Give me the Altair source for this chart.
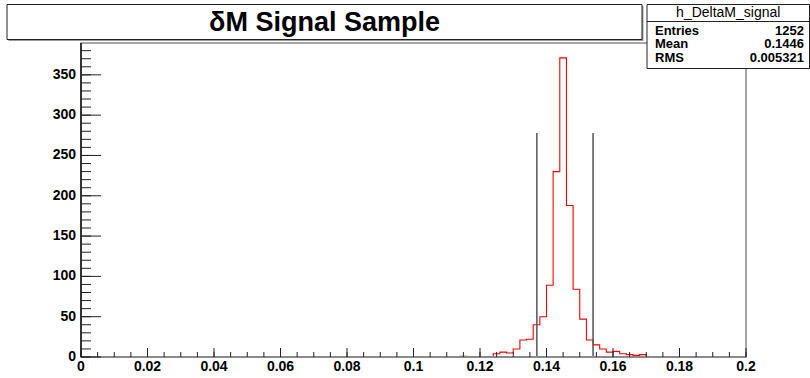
import altair as alt
import numpy as np
import pandas as pd

# ---------------- data ----------------
# histogram h_DeltaM_signal: 100 bins of width 0.002 on [0, 0.2]; non-empty bins
bin_lows = [0.114, 0.124, 0.126, 0.128, 0.130, 0.132, 0.134, 0.136, 0.138, 0.140,
            0.142, 0.144, 0.146, 0.148, 0.150, 0.152, 0.154, 0.156, 0.158, 0.160,
            0.162, 0.164, 0.166, 0.168]
bin_counts = [1, 4, 6, 5, 10, 21, 22, 40, 50, 89,
              230, 371, 188, 84, 47, 21, 15, 10, 6, 7,
              4, 3, 2, 3]
n_bins = 100
x_min, x_max = 0.0, 0.2
y_max = 389.5

# selection window lines
cut_x = [0.1371, 0.1540]
cut_height = 278

# axis labels / ticks
x_label_values = [0, 0.02, 0.04, 0.06, 0.08, 0.1, 0.12, 0.14, 0.16, 0.18, 0.2]
x_label_texts = ["0", "0.02", "0.04", "0.06", "0.08", "0.1", "0.12", "0.14", "0.16", "0.18", "0.2"]
y_label_values = [0, 50, 100, 150, 200, 250, 300, 350]
y_label_texts = ["0", "50", "100", "150", "200", "250", "300", "350"]
x_minor_step = 0.005
y_minor_step = 10

title_text = "δM Signal Sample"
stats_name = "h_DeltaM_signal"
stats_labels = ["Entries", "Mean", "RMS"]
stats_values = ["1252", "0.1446", "0.005321"]

# ---------------- layout ----------------
W, H = 665, 314
PAD_L, PAD_T = 81, 43
FONT = "Liberation Sans"

bw = (x_max - x_min) / n_bins
counts = np.zeros(n_bins)
for lo, c in zip(bin_lows, bin_counts):
    counts[int(round((lo - x_min) / bw))] = c
edges = np.round(x_min + np.arange(n_bins + 1) * bw, 6)
hist_df = pd.DataFrame({"x": edges, "y": list(counts) + [counts[-1]]})

cut_df = pd.DataFrame({"x": cut_x, "y": [0] * len(cut_x), "y2": [cut_height] * len(cut_x)})

x_minor = np.round(np.arange(x_min, x_max + 1e-9, x_minor_step), 6)
y_minor = np.arange(0, y_max, y_minor_step)
xmaj_df = pd.DataFrame({"x": x_label_values, "t": x_label_texts})
xmin_df = pd.DataFrame({"x": x_minor})
ymaj_df = pd.DataFrame({"y": y_label_values, "t": y_label_texts})
ymin_df = pd.DataFrame({"y": y_minor})

xscale = alt.Scale(domain=[x_min, x_max], nice=False, zero=False)
yscale = alt.Scale(domain=[0, y_max], nice=False)

one = alt.Data(values=[{}])


def X(field="x"):
    return alt.X(f"{field}:Q", scale=xscale, axis=None)


def Y(field="y"):
    return alt.Y(f"{field}:Q", scale=yscale, axis=None)


hist = alt.Chart(hist_df).mark_line(interpolate="step-after", color="#ff0000", strokeWidth=1.1).encode(
    x=X(), y=Y())

cuts = alt.Chart(cut_df).mark_rule(color="#555555", strokeWidth=1.5).encode(
    x=X(), y=Y(), y2="y2:Q")

frame = alt.Chart(one).mark_rect(fillOpacity=0, stroke="#888888", strokeWidth=1.5).encode(
    x=alt.value(0), x2=alt.value(W), y=alt.value(0), y2=alt.value(H))
bottom_axis = alt.Chart(one).mark_rule(color="#8a8a8a", strokeWidth=2).encode(
    x=alt.value(0), x2=alt.value(W), y=alt.value(H))
left_axis = alt.Chart(one).mark_rule(color="#111111", strokeWidth=1.5).encode(
    x=alt.value(0), y=alt.value(0), y2=alt.value(H))

xt_major = alt.Chart(xmaj_df).mark_rule(color="#222222", strokeWidth=1).encode(
    x=X(), y=alt.value(H), y2=alt.value(H - 9))
xt_minor = alt.Chart(xmin_df).mark_rule(color="#222222", strokeWidth=1).encode(
    x=X(), y=alt.value(H), y2=alt.value(H - 5))
yt_major = alt.Chart(ymaj_df).mark_rule(color="#222222", strokeWidth=1).encode(
    y=Y(), x=alt.value(0), x2=alt.value(20))
yt_minor = alt.Chart(ymin_df).mark_rule(color="#222222", strokeWidth=1).encode(
    y=Y(), x=alt.value(0), x2=alt.value(10))

x_labels = alt.Chart(xmaj_df).mark_text(font=FONT, fontSize=14, fontWeight="bold", align="center",
                                        baseline="top", color="black").encode(
    x=X(), y=alt.value(H + 3), text="t:N")
y_labels = alt.Chart(ymaj_df).mark_text(font=FONT, fontSize=14, fontWeight="bold", align="right",
                                        baseline="middle", color="black").encode(
    y=Y(), x=alt.value(-5), text="t:N")

# title pave
t_x0, t_x1, t_y0, t_y1 = 7 - PAD_L, 642 - PAD_L, 4.5 - PAD_T, 39.5 - PAD_T
title_shadow = alt.Chart(one).mark_rect(fill="#999999").encode(
    x=alt.value(t_x0 + 1.5), x2=alt.value(t_x1 + 1.5), y=alt.value(t_y0 + 1.5), y2=alt.value(t_y1 + 1.5))
title_box = alt.Chart(one).mark_rect(fill="white", stroke="#222222", strokeWidth=1).encode(
    x=alt.value(t_x0), x2=alt.value(t_x1), y=alt.value(t_y0), y2=alt.value(t_y1))
title_txt = alt.Chart(one).mark_text(text=title_text, font=FONT, fontSize=27, fontWeight="bold",
                                     align="center", baseline="middle", color="black").encode(
    x=alt.value((t_x0 + t_x1) / 2), y=alt.value((t_y0 + t_y1) / 2 + 1))

# stats pave
s_x0, s_x1, s_y0, s_y1 = 647 - PAD_L, 809.5 - PAD_L, 4.5 - PAD_T, 68.5 - PAD_T
stats_box = alt.Chart(one).mark_rect(fill="white", stroke="#222222", strokeWidth=1).encode(
    x=alt.value(s_x0), x2=alt.value(s_x1), y=alt.value(s_y0), y2=alt.value(s_y1))
stats_sep = alt.Chart(one).mark_rule(color="#222222", strokeWidth=1).encode(
    x=alt.value(s_x0), x2=alt.value(s_x1), y=alt.value(21.5 - PAD_T))
stats_head = alt.Chart(one).mark_text(text=stats_name, font=FONT, fontSize=14, align="center",
                                      baseline="middle", color="black").encode(
    x=alt.value((s_x0 + s_x1) / 2), y=alt.value(13 - PAD_T))
row_y = [30.5 - PAD_T, 44 - PAD_T, 57.5 - PAD_T]
stats_lab_charts = []
for lab, val, ry in zip(stats_labels, stats_values, row_y):
    stats_lab_charts.append(alt.Chart(one).mark_text(text=lab, font=FONT, fontSize=13, fontWeight="bold",
                                                     align="left", baseline="middle", color="black").encode(
        x=alt.value(655 - PAD_L), y=alt.value(ry)))
    stats_lab_charts.append(alt.Chart(one).mark_text(text=val, font=FONT, fontSize=13, fontWeight="bold",
                                                     align="right", baseline="middle", color="black").encode(
        x=alt.value(804 - PAD_L), y=alt.value(ry)))

chart = alt.layer(
    hist, cuts, frame, bottom_axis, left_axis, xt_major, xt_minor, yt_major, yt_minor,
    x_labels, y_labels,
    title_shadow, title_box, title_txt, stats_box, stats_sep, stats_head, *stats_lab_charts,
).properties(
    width=W, height=H,
    autosize=alt.AutoSizeParams(type="none"),
    padding={"left": PAD_L, "top": PAD_T, "right": 810 - PAD_L - W, "bottom": 378 - PAD_T - H},
    background="white",
).configure_view(stroke=None)

chart.save("out.html", embed_options={"renderer": "svg", "actions": False})
